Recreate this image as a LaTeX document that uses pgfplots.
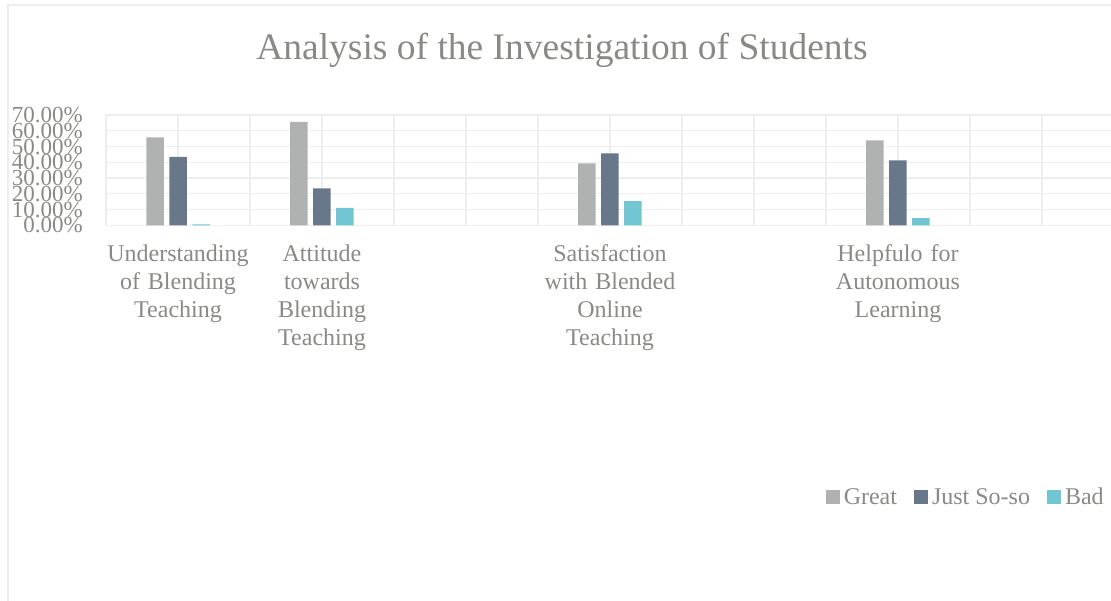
\documentclass[border=0pt]{standalone}
\usepackage{fontspec}
\setmainfont{Liberation Serif}
\usepackage{pgfplots}
\pgfplotsset{compat=1.18}
\definecolor{txt}{HTML}{898A85}
\definecolor{cgreat}{HTML}{B0B2B1}
\definecolor{cjust}{HTML}{687789}
\definecolor{cbad}{HTML}{72C6D3}
\definecolor{grd}{HTML}{EEEEEE}
\begin{document}
\begin{tikzpicture}
\path[use as bounding box] (0,0) rectangle (1111pt,-601pt);
\draw[color=grd, line width=1.5pt] (8pt,-700pt) -- (8pt,-5pt) -- (1200pt,-5pt);
\node[text=txt, font=\fontsize{37.5}{44}\selectfont, inner sep=0pt] at (562pt,-50pt) {Analysis of the Investigation of Students};
\begin{axis}[
  at={(106pt,-225.3pt)}, anchor=south west,
  width=1008pt, height=110.3pt, scale only axis,
  xmin=0, xmax=14, ymin=0, ymax=70,
  xtick={0,...,14}, xticklabels={},
  ytick={0,10,...,70},
  grid=major, major grid style={grd, line width=1.3pt},
  axis line style={draw=none}, tick style={draw=none},
  /pgf/number format/assume math mode=true,
  yticklabel={\pgfmathprintnumber[fixed,fixed zerofill,precision=2]{\tick}\%},
  yticklabel style={text=txt, font=\fontsize{23}{23}\selectfont, anchor=east, inner sep=0pt, xshift=-23pt},
  extra x ticks={1,3,7,11},
  extra x tick labels={{Understanding of Blending Teaching},{Attitude towards Blending Teaching},{Satisfaction with Blended Online Teaching},{Helpfulo for Autonomous Learning}},
  extra x tick style={grid=none, xticklabel style={text width=150pt, align=center, font=\fontsize{24}{28}\selectfont, text=txt, anchor=north, inner sep=0pt, yshift=-15pt}},
  ybar, bar width=17.5pt, ybar=5.5pt,
  legend columns=3,
  legend style={draw=none, fill=none, at={(axis description cs:0.995,-2.466)}, anchor=east,
    font=\fontsize{24}{28}\selectfont, text=txt,
    /tikz/every even column/.append style={column sep=15pt}},
  legend image code/.code={\fill[#1] (0pt,-7pt) rectangle (14pt,7pt); \path (0pt,0pt) -- (16pt,0pt);},
]
\addplot[fill=cgreat, draw=none] coordinates {(1,55.8) (3,65.7) (7,39.3) (11,53.9)};
\addlegendentry{Great}
\addplot[fill=cjust, draw=none] coordinates {(1,43.5) (3,23.5) (7,45.7) (11,41.2)};
\addlegendentry{Just So-so}
\addplot[fill=cbad, draw=none] coordinates {(1,0.6) (3,11.0) (7,15.4) (11,4.6)};
\addlegendentry{Bad}
\end{axis}
\end{tikzpicture}
\end{document}
